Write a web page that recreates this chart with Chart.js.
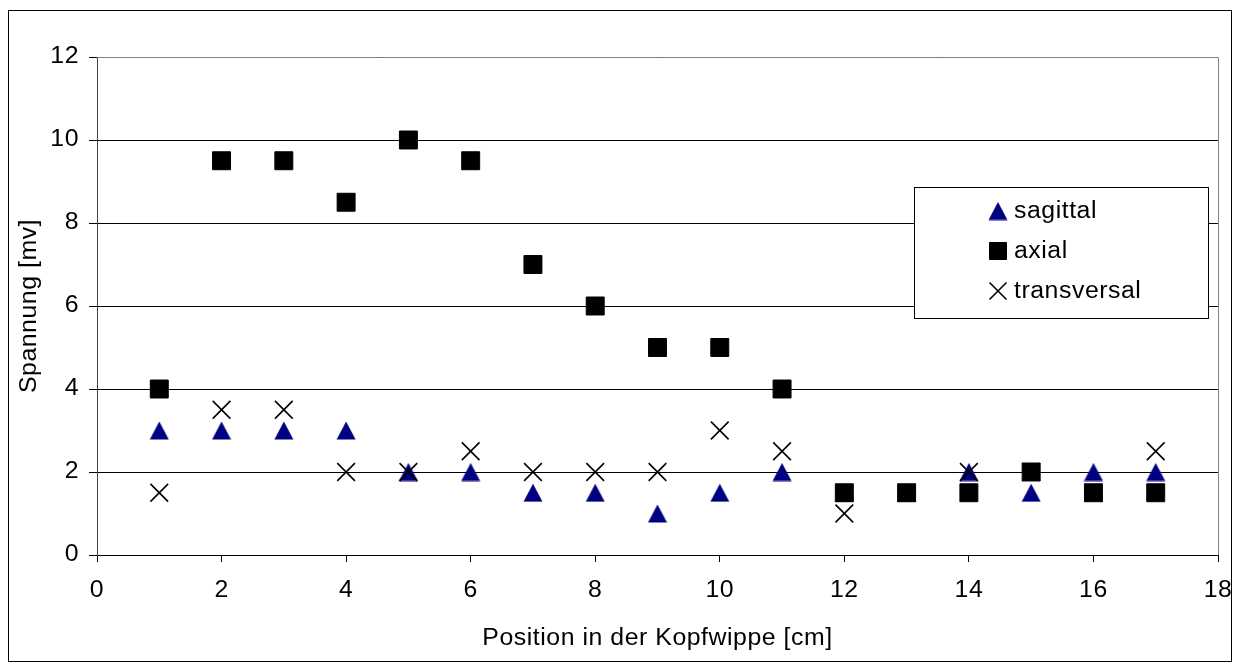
<!DOCTYPE html>
<html>
<head>
<meta charset="utf-8">
<script src="https://cdn.jsdelivr.net/npm/chart.js@4/dist/chart.umd.min.js"></script>
<style>
  html, body { margin: 0; padding: 0; background: #fff; }
  #wrap { position: relative; width: 1240px; height: 666px; }
  #frame { position: absolute; left: 8px; top: 10px; width: 1222px; height: 650px; border: 1px solid #000; pointer-events: none; }
</style>
</head>
<body>
<div id="wrap">
  <canvas id="chart" width="1240" height="666"></canvas>
  <div id="frame"></div>
</div>
<script>
// Spannung je Position in der Kopfwippe, drei Richtungen.
const positions = [1,2,3,4,5,6,7,8,9,10,11,12,13,14,15,16,17];

const sagittal    = [3,3,3,3,2,2,1.5,1.5,1,1.5,2,1.5,1.5,2,1.5,2,2];
const axial       = [4,9.5,9.5,8.5,10,9.5,7,6,5,5,4,1.5,1.5,1.5,2,1.5,1.5];
const transversal = [1.5,3.5,3.5,2,2,2.5,2,2,2,3,2.5,1,1.5,2,2,1.5,2.5];

const seriesNames = ['sagittal', 'axial', 'transversal'];
const xTicks = [0,2,4,6,8,10,12,14,16,18];
const yTicks = [0,2,4,6,8,10,12];

const pts = (ys) => positions.map((x, i) => ({ x: x, y: ys[i] }));
const font = { family: 'Liberation Sans, Arial, sans-serif', size: 23 };

// Excel-like triangle marker, centred in its box (Chart.js' own sits high)
const tri = document.createElement('canvas');
tri.width = 20; tri.height = 19;
(function () {
  const c = tri.getContext('2d');
  c.fillStyle = '#000080';
  c.beginPath();
  c.moveTo(0.5, 18.5);
  c.lineTo(10, 0.5);
  c.lineTo(19.5, 18.5);
  c.closePath();
  c.fill();
})();

// text in the original is a bit stretched sideways
const wideText = {
  id: 'wideText',
  beforeDraw(chart) {
    const ctx = chart.ctx;
    ctx.letterSpacing = '0.5px';
    if (ctx._wide) return;
    ctx._wide = true;
    const orig = ctx.fillText.bind(ctx);
    ctx.fillText = function (t, x, y, m) {
      this.save();
      this.translate(x, y);
      this.scale(1.08, 1);
      if (m === undefined) orig(t, 0, 0); else orig(t, 0, 0, m / 1.08);
      this.restore();
    };
  }
};

// gray box on top/right of the plot
const plotFrame = {
  id: 'plotFrame',
  beforeDatasetsDraw(chart) {
    const { ctx, chartArea: a } = chart;
    ctx.save();
    ctx.strokeStyle = '#808080';
    ctx.lineWidth = 1;
    ctx.beginPath();
    ctx.moveTo(a.left, a.top + 0.5);
    ctx.lineTo(a.right + 0.5, a.top + 0.5);
    ctx.lineTo(a.right + 0.5, a.bottom);
    ctx.stroke();
    ctx.restore();
  }
};

// legend box inside the plot on the right
const boxLegend = {
  id: 'boxLegend',
  afterDraw(chart) {
    const { ctx } = chart;
    const bx = 914, by = 187, bw = 294, bh = 131;
    ctx.save();
    ctx.fillStyle = '#fff';
    ctx.fillRect(bx, by, bw, bh);
    ctx.strokeStyle = '#000';
    ctx.lineWidth = 1;
    ctx.strokeRect(bx + 0.5, by + 0.5, bw, bh);
    ctx.font = font.size + 'px ' + font.family;
    ctx.textBaseline = 'middle';
    chart.data.datasets.forEach((ds, i) => {
      const cy = by + 24 + i * 40;
      ctx.fillStyle = ds.backgroundColor;
      ctx.strokeStyle = ds.borderColor;
      ctx.lineWidth = ds.borderWidth;
      Chart.helpers.drawPoint(ctx, {
        pointStyle: ds.pointStyle,
        radius: 12,
        rotation: 0,
        borderWidth: ds.borderWidth
      }, 998, cy);
      ctx.fillStyle = '#000';
      ctx.fillText(seriesNames[i], 1014, cy + 1);
    });
    ctx.restore();
  }
};

new Chart(document.getElementById('chart').getContext('2d'), {
  type: 'scatter',
  data: {
    datasets: [
      {
        label: seriesNames[0],
        data: pts(sagittal),
        order: 3,
        pointStyle: tri,
        pointRadius: 10,
        backgroundColor: '#000080',
        borderColor: '#000080',
        borderWidth: 1
      },
      {
        label: seriesNames[1],
        data: pts(axial),
        order: 2,
        pointStyle: 'rect',
        pointRadius: 12.7,
        backgroundColor: '#000',
        borderColor: '#000',
        borderWidth: 1
      },
      {
        label: seriesNames[2],
        data: pts(transversal),
        order: 1,
        pointStyle: 'crossRot',
        pointRadius: 12.5,
        backgroundColor: '#000',
        borderColor: '#000',
        borderWidth: 1.6
      }
    ]
  },
  options: {
    responsive: false,
    animation: false,
    layout: { padding: { left: 0, top: 57, right: 22, bottom: 0 } },
    plugins: {
      legend: { display: false },
      tooltip: { enabled: false }
    },
    scales: {
      x: {
        type: 'linear',
        min: 0, max: 18,
        afterBuildTicks: (s) => { s.ticks = xTicks.map(v => ({ value: v })); },
        afterFit: (s) => { s.height = 111; s.paddingLeft = 0; s.paddingRight = 0; },
        grid: { drawOnChartArea: false, drawTicks: true, tickLength: 7, color: '#000' },
        border: { color: '#000', width: 1 },
        ticks: { color: '#000', font: font, padding: 15, maxRotation: 0 },
        title: { display: true, text: 'Position in der Kopfwippe [cm]', color: '#000', font: font, padding: { top: 0, bottom: 14 } }
      },
      y: {
        type: 'linear',
        min: 0, max: 12,
        afterBuildTicks: (s) => { s.ticks = yTicks.map(v => ({ value: v })); },
        afterFit: (s) => { s.width = 97; s.paddingTop = 0; s.paddingBottom = 0; },
        grid: { color: '#000', lineWidth: 1, drawTicks: true, tickLength: 8 },
        border: { color: '#404040', width: 1 },
        ticks: { color: '#000', font: font, padding: 10 },
        title: { display: true, text: 'Spannung [mv]', color: '#000', font: font, padding: { top: 16, bottom: 0 } }
      }
    }
  },
  plugins: [wideText, plotFrame, boxLegend]
});
</script>
</body>
</html>
